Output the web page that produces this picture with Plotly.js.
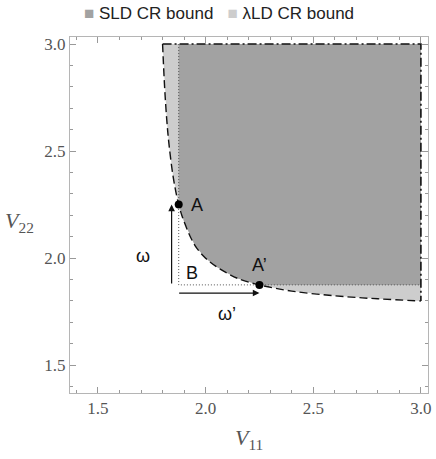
<!DOCTYPE html>
<html>
<head>
<meta charset="utf-8">
<script src="https://cdn.plot.ly/plotly-3.0.1.min.js"></script>
<style>
  html, body { margin: 0; padding: 0; background: #fff; }
  #chart { width: 436px; height: 459px; }
</style>
</head>
<body>
<div id="chart"></div>
<script>
// boundary of the lambda-LD region (dashed curve)
const curveX = [1.80, 1.81, 1.82, 1.83, 1.85, 1.875, 1.90, 1.95, 2.00, 2.05, 2.10, 2.15, 2.25, 2.40, 2.60, 2.80, 3.00];
const curveY = [3.00, 2.79, 2.64, 2.53, 2.375, 2.25, 2.17, 2.06, 2.00, 1.96, 1.93, 1.905, 1.875, 1.846, 1.824, 1.81, 1.80];

// corner of the SLD region and upper limit of the plotted domain
const cornerB = 1.875;
const upper = 3.0;

// labelled points
const pointNames = ['A', "A\u2019"];
const pointX = [1.875, 2.25];
const pointY = [2.25, 1.875];

// the two shift arrows (omega, omega')
const arrowNames = ['ω', 'ω\u2019'];
const arrowFrom = [[1.842, 1.875], [1.87, 1.837]];
const arrowTo = [[1.842, 2.25], [2.25, 1.837]];

const seriesNames = ['SLD CR bound', 'λLD CR bound'];
const darkFill = '#a2a2a2';
const lightFill = '#cdcdcd';

// light region: everything above the curve up to x = 3, y = 3
const lightX = curveX.concat([upper, curveX[0]]);
const lightY = curveY.concat([upper, curveY[0]]);

// dark region: above the curve, with x and y at least the B corner
const inside = curveX.map((x, i) => x >= cornerB && curveY[i] >= cornerB);
const darkX = [cornerB].concat(curveX.filter((x, i) => inside[i]), [upper, upper, cornerB]);
const darkY = [upper].concat(curveY.filter((y, i) => inside[i]), [cornerB, upper, upper]);

const traces = [
  { x: lightX, y: lightY, type: 'scatter', mode: 'lines', fill: 'toself', name: seriesNames[1],
    fillcolor: lightFill, line: { width: 0 }, hoverinfo: 'skip' },
  { x: darkX, y: darkY, type: 'scatter', mode: 'lines', fill: 'toself', name: seriesNames[0],
    fillcolor: darkFill, line: { width: 0 }, hoverinfo: 'skip' },
  // dotted edges of the SLD region
  { x: [cornerB, cornerB, upper], y: [upper, cornerB, cornerB], type: 'scatter', mode: 'lines',
    line: { color: '#555', width: 1, dash: '1px,2px' }, hoverinfo: 'skip' },
  // dash-dot outer edge
  { x: [curveX[0], upper, upper], y: [upper, upper, curveY[curveY.length - 1]], type: 'scatter', mode: 'lines',
    line: { color: '#111', width: 1.6, dash: '9px,3px,2px,3px' }, hoverinfo: 'skip' },
  // dashed curve
  { x: curveX, y: curveY, type: 'scatter', mode: 'lines', line: { color: '#111', width: 1.4, dash: '8px,4px', shape: 'spline' },
    hoverinfo: 'skip' },
  // A and A'
  { x: pointX, y: pointY, type: 'scatter', mode: 'markers', marker: { color: '#000', size: 8 },
    hoverinfo: 'skip' }
];

const labelFont = { family: 'Liberation Sans, Arial, sans-serif', size: 18, color: '#111' };
const annotations = [
  { x: 1.958, y: 2.25, text: pointNames[0] },
  { x: 2.25, y: 1.97, text: pointNames[1] },
  { x: 1.937, y: 1.93, text: 'B' },
  { x: 1.71, y: 2.01, text: arrowNames[0] },
  { x: 2.1, y: 1.74, text: arrowNames[1] }
].map(a => Object.assign(a, { xref: 'x', yref: 'y', showarrow: false, font: labelFont }));

arrowFrom.forEach((f, i) => {
  annotations.push({
    x: arrowTo[i][0], y: arrowTo[i][1], ax: f[0], ay: f[1],
    xref: 'x', yref: 'y', axref: 'x', ayref: 'y', text: '',
    showarrow: true, arrowhead: 2, arrowsize: 1.1, arrowwidth: 1.2, arrowcolor: '#111', standoff: 0
  });
});

// legend drawn as one line of text above the frame
const legendText = '<span style="color:' + darkFill + '">\u25A0</span> ' + seriesNames[0] +
  '   <span style="color:' + lightFill + '">\u25A0</span> ' + seriesNames[1];
annotations.push({ x: 0.416, y: 1.067, xref: 'paper', yref: 'paper', xanchor: 'center', yanchor: 'middle',
  showarrow: false, text: legendText,
  font: { family: 'Liberation Sans, Arial, sans-serif', size: 17, color: '#222' } });

const serif = '"Liberation Serif", "Times New Roman", serif';
annotations.push(
  { x: 0.5, y: -0.085, xref: 'paper', yref: 'paper', yanchor: 'top', showarrow: false,
    text: '<i>V</i><sub>11</sub>', font: { family: serif, size: 22, color: '#555' } },
  { x: -0.14, y: 0.48, xref: 'paper', yref: 'paper', xanchor: 'center', showarrow: false,
    text: '<i>V</i><sub>22</sub>', font: { family: serif, size: 22, color: '#555' } }
);

const axisStyle = {
  range: [1.37, 3.033],
  tickvals: [1.5, 2.0, 2.5, 3.0],
  ticktext: ['1.5', '2.0', '2.5', '3.0'],
  ticks: 'inside', ticklen: 6, tickcolor: '#999', tickwidth: 1,
  minor: { dtick: 0.1, ticks: 'inside', ticklen: 3, tickcolor: '#999', showgrid: false },
  showline: true, linecolor: '#b5b5b5', linewidth: 1, mirror: 'allticks',
  showgrid: false, zeroline: false,
  tickfont: { family: serif, size: 17, color: '#555' }
};

Plotly.newPlot('chart', traces, {
  width: 436, height: 459,
  margin: { l: 70, r: 8, t: 37, b: 66 },
  paper_bgcolor: '#fff', plot_bgcolor: '#fff',
  xaxis: Object.assign({}, axisStyle),
  yaxis: Object.assign({}, axisStyle),
  showlegend: false,
  annotations: annotations
}, { displayModeBar: false, staticPlot: true });
</script>
</body>
</html>
